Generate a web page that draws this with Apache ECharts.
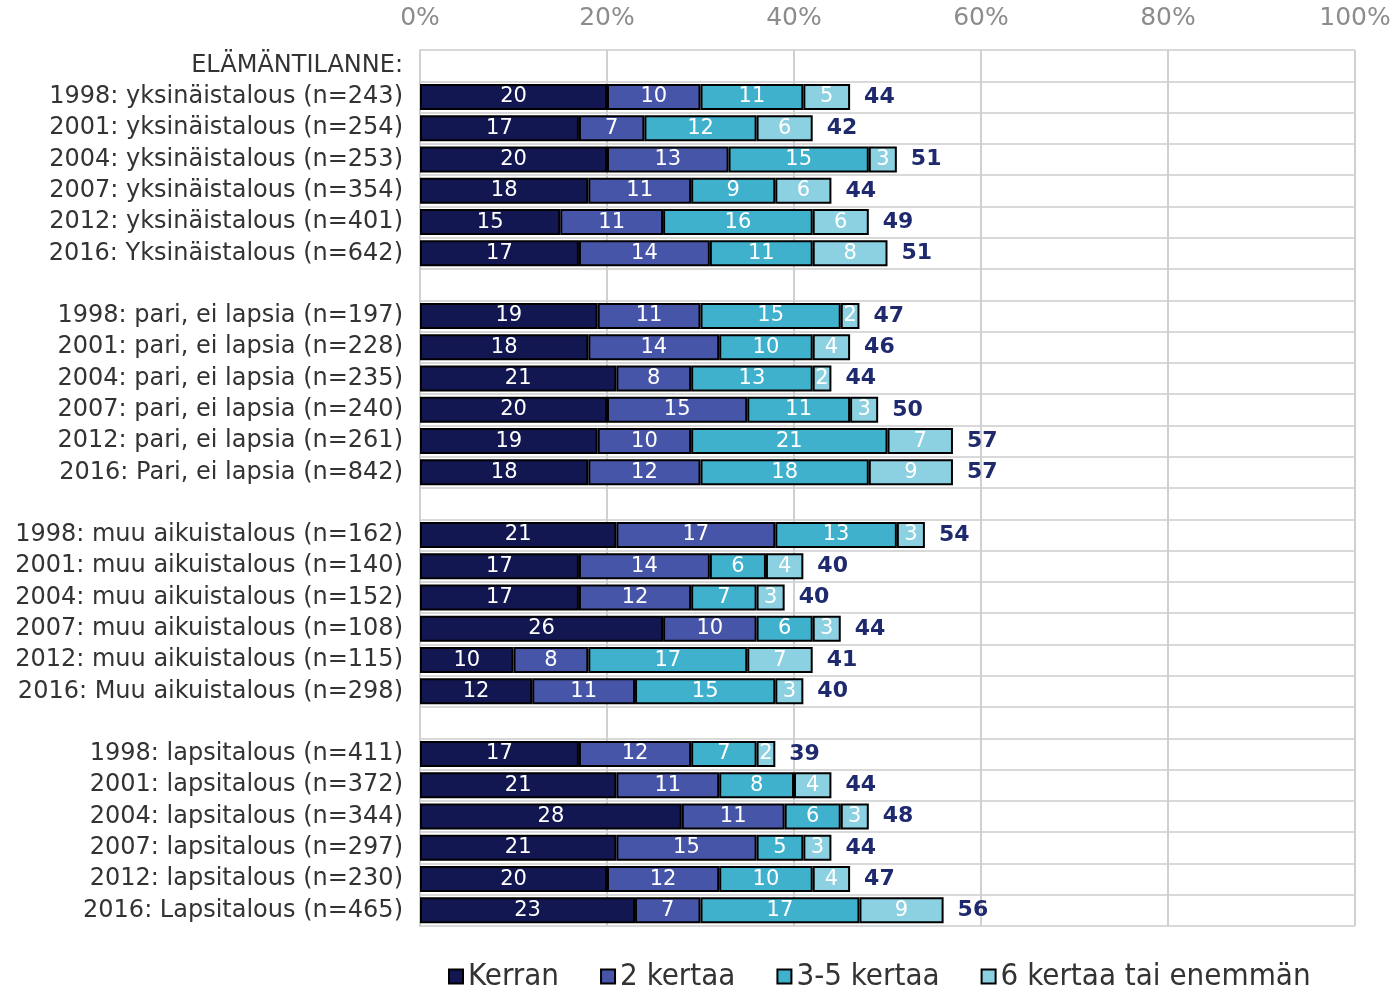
<!DOCTYPE html>
<html>
<head>
<meta charset="utf-8">
<script src="https://cdn.jsdelivr.net/npm/echarts@6/dist/echarts.min.js"></script>
<style>
  html, body { margin: 0; padding: 0; background: #fff; }
  #chart { width: 1395px; height: 988px; }
</style>
</head>
<body>
<div id="chart"></div>
<script>
var categories = [
    'ELÄMÄNTILANNE:',
    '1998: yksinäistalous (n=243)',
    '2001: yksinäistalous (n=254)',
    '2004: yksinäistalous (n=253)',
    '2007: yksinäistalous (n=354)',
    '2012: yksinäistalous (n=401)',
    '2016: Yksinäistalous (n=642)',
    ' ',
    '1998: pari, ei lapsia (n=197)',
    '2001: pari, ei lapsia (n=228)',
    '2004: pari, ei lapsia (n=235)',
    '2007: pari, ei lapsia (n=240)',
    '2012: pari, ei lapsia (n=261)',
    '2016: Pari, ei lapsia (n=842)',
    '  ',
    '1998: muu aikuistalous (n=162)',
    '2001: muu aikuistalous (n=140)',
    '2004: muu aikuistalous (n=152)',
    '2007: muu aikuistalous (n=108)',
    '2012: muu aikuistalous (n=115)',
    '2016: Muu aikuistalous (n=298)',
    '   ',
    '1998: lapsitalous (n=411)',
    '2001: lapsitalous (n=372)',
    '2004: lapsitalous (n=344)',
    '2007: lapsitalous (n=297)',
    '2012: lapsitalous (n=230)',
    '2016: Lapsitalous (n=465)'
];

var seriesNames = ['Kerran', '2 kertaa', '3-5 kertaa', '6 kertaa tai enemmän'];

var kerran = ['-', 20, 17, 20, 18, 15, 17, '-', 19, 18, 21, 20, 19, 18, '-', 21, 17, 17, 26, 10, 12, '-', 17, 21, 28, 21, 20, 23];
var kaksi  = ['-', 10, 7, 13, 11, 11, 14, '-', 11, 14, 8, 15, 10, 12, '-', 17, 14, 12, 10, 8, 11, '-', 12, 11, 11, 15, 12, 7];
var kolmeViisi = ['-', 11, 12, 15, 9, 16, 11, '-', 15, 10, 13, 11, 21, 18, '-', 13, 6, 7, 6, 17, 15, '-', 7, 8, 6, 5, 10, 17];
var kuusiTai = ['-', 5, 6, 3, 6, 6, 8, '-', 2, 4, 2, 3, 7, 9, '-', 3, 4, 3, 3, 7, 3, '-', 2, 4, 3, 3, 4, 9];
var totals = ['-', 44, 42, 51, 44, 49, 51, '-', 47, 46, 44, 50, 57, 57, '-', 54, 40, 40, 44, 41, 40, '-', 39, 44, 48, 44, 47, 56];

var xTicks = [0, 20, 40, 60, 80, 100];

var colors = ['#121651', '#4755a8', '#3fb1cd', '#8cd1e1'];
var font = 'DejaVu Sans';

var chart = echarts.init(document.getElementById('chart'));

var series = [kerran, kaksi, kolmeViisi, kuusiTai].map(function (d, i) {
    return {
        name: seriesNames[i],
        type: 'bar',
        stack: 'all',
        data: d,
        barWidth: 26,
        itemStyle: { color: colors[i], borderColor: '#000', borderWidth: 2 },
        label: {
            show: true,
            position: 'inside',
            color: '#fff',
            fontFamily: font,
            fontSize: 21
        }
    };
});

// zero-width stacked bar only used to carry the total label
series.push({
    name: 'total',
    type: 'bar',
    stack: 'all',
    data: totals.map(function (t) { return t === '-' ? '-' : 0; }),
    barWidth: 26,
    itemStyle: { color: 'transparent', borderWidth: 0 },
    label: {
        show: true,
        position: 'right',
        distance: 14,
        color: '#1f2a6e',
        fontFamily: font,
        fontWeight: 'bold',
        fontSize: 22,
        formatter: function (p) { return totals[p.dataIndex]; }
    }
});

var option = {
    animation: false,
    grid: { left: 420, right: 40, top: 50, bottom: 62 },
    legend: {
        data: seriesNames,
        top: 956,
        left: 443,
        itemWidth: 14,
        itemHeight: 14,
        itemGap: 41,
        icon: 'rect',
        textStyle: { fontFamily: "'DejaVu Sans Condensed', 'Liberation Sans', sans-serif", fontSize: 31, color: '#333', padding: [0, 0, 0, 0] }
    },
    xAxis: {
        type: 'value',
        position: 'top',
        min: 0,
        max: 100,
        interval: 20,
        axisLine: { show: false },
        axisTick: { show: false },
        splitLine: { lineStyle: { color: '#d0d0d0', width: 2 } },
        axisLabel: {
            color: '#8c8c8c',
            fontFamily: font,
            fontSize: 25,
            margin: 19,
            formatter: function (v) { return xTicks.indexOf(v) >= 0 ? v + '%' : ''; }
        }
    },
    yAxis: {
        type: 'category',
        inverse: true,
        data: categories,
        axisLine: { show: true, lineStyle: { color: '#d0d0d0', width: 2 } },
        axisTick: { show: false },
        splitLine: { show: true, lineStyle: { color: '#d9d9d9', width: 2 } },
        axisLabel: {
            color: '#333',
            fontFamily: font,
            fontSize: 24,
            margin: 17
        }
    },
    series: series
};

chart.setOption(option);
</script>
</body>
</html>
